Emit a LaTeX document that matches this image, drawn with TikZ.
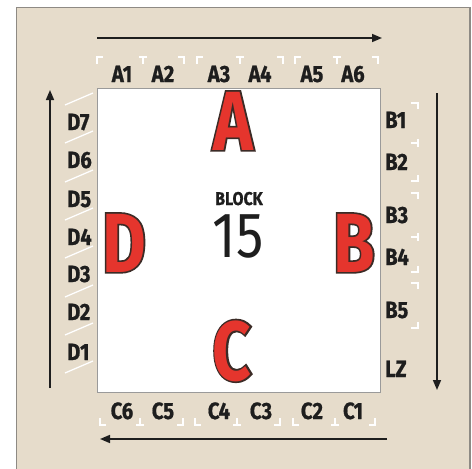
\documentclass[tikz,border=0pt]{standalone}
\usepackage{fontspec}
\setmainfont{Fira Sans}
\newfontfamily\tagfont[FakeStretch=0.86,BoldFeatures={FakeBold=0.8}]{Fira Sans}
\newfontfamily\numfont[FakeStretch=0.85]{Fira Sans}
\newfontfamily\bigfont[FakeStretch=0.8]{Fira Sans}
\newfontfamily\bigedgefont[FakeStretch=0.8,BoldFeatures={FakeBold=4}]{Fira Sans}
\usetikzlibrary{arrows.meta,positioning}
\definecolor{PanelBG}{HTML}{E6DCCB}
\definecolor{PanelFrame}{HTML}{8E8A84}
\definecolor{BoxFrame}{HTML}{9A9A9A}
\definecolor{InkDark}{HTML}{1E1E1E}
\definecolor{LetterRed}{HTML}{E5352D}
\definecolor{LetterEdge}{HTML}{3B2B26}
\tikzset{
  pinlabel/.style={font=\tagfont\bfseries\fontsize{23.5}{23.5}\selectfont,text=InkDark,inner sep=0pt},
  bigletter/.style={font=\bigfont\bfseries\fontsize{84}{84}\selectfont,text=LetterRed,inner sep=0pt,anchor=base},
  bigedge/.style={font=\bigedgefont\bfseries\fontsize{84}{84}\selectfont,text=LetterEdge,inner sep=0pt,anchor=base},
  flowarrow/.style={-{Triangle[length=10pt,width=8pt]},line width=1.6pt,InkDark},
  pinmark/.style={white,line width=1.3pt},
}

\begin{document}
\begin{tikzpicture}[x=1pt,y=-1pt]
  \useasboundingbox (0,0) rectangle (472,469);
  % --- panel and chip body ---
  \fill[white] (0,0) rectangle (472,469);
  \fill[PanelBG] (16,7) rectangle (470,472);
  \draw[PanelFrame,line width=0.8pt] (16,472)--(16,7)--(470,7);
  \draw[PanelFrame,line width=1.6pt] (470,7)--(470,472);
  \draw[BoxFrame,fill=white,line width=0.8pt] (97,88) rectangle (380,392);

  % --- flow arrows round the chip ---
  \coordinate (topS) at (97,38);   \coordinate (topE) at (382,38);
  \coordinate (rgtS) at (437,93);  \coordinate (rgtE) at (437,390);
  \coordinate (botS) at (387,439); \coordinate (botE) at (100,439);
  \coordinate (lftS) at (50,388);  \coordinate (lftE) at (50,90);
  \draw[flowarrow] (topS)--(topE);
  \draw[flowarrow] (rgtS)--(rgtE);
  \draw[flowarrow] (botS)--(botE);
  \draw[flowarrow] (lftS)--(lftE);

  % --- white pin brackets ---
  % top: A pins
  \draw[pinmark] (97,64)--(97,57)--(103,57)  (139,57)--(147,57) (143,57)--(143,64)
                 (178,57)--(184,57)--(184,64);
  \draw[pinmark] (197,64)--(197,57)--(203,57) (236,57)--(244,57) (240,57)--(240,64)
                 (277,57)--(283,57)--(283,64);
  \draw[pinmark] (295,64)--(295,57)--(301,57) (333,57)--(341,57) (337,57)--(337,64)
                 (372,57)--(378,57)--(378,64);
  % bottom: C pins
  \draw[pinmark] (100,418)--(100,425)--(106,425) (136,425)--(144,425) (140,425)--(140,418)
                 (177,425)--(183,425)--(183,418);
  \draw[pinmark] (195,418)--(195,425)--(201,425) (233,425)--(241,425) (237,425)--(237,418)
                 (274,425)--(280,425)--(280,418);
  \draw[pinmark] (293,418)--(293,425)--(299,425) (331,425)--(339,425) (335,425)--(335,418)
                 (369,425)--(375,425)--(375,418);
  % right: B pins
  \draw[pinmark] (411,103)--(418,103)--(418,109) (418,139)--(418,147) (411,143)--(418,143)
                 (418,175)--(418,181)--(411,181);
  \draw[pinmark] (411,193)--(418,193)--(418,199) (418,233)--(418,241) (411,237)--(418,237)
                 (418,266)--(418,272)--(411,272);
  \draw[pinmark] (411,283)--(418,283)--(418,289) (418,322)--(418,328)--(411,328);
  % left: D pins
  \draw[pinmark] (65,105)--(93,93)   (65,143)--(93,131)  (65,182)--(93,170)
                 (65,220)--(93,208)  (65,258)--(93,246)  (65,297)--(93,285)
                 (65,335)--(93,323)  (65,373)--(93,361);

  % --- pin names ---
  \node[pinlabel,anchor=base] (a1) at (122,82) {A1};
  \node[pinlabel,anchor=base] (a2) at (163,82) {A2};
  \node[pinlabel,anchor=base] (a3) at (219,82) {A3};
  \node[pinlabel,anchor=base] (a4) at (260,82) {A4};
  \node[pinlabel,anchor=base] (a5) at (312,82) {A5};
  \node[pinlabel,anchor=base] (a6) at (353,82) {A6};
  \node[pinlabel,anchor=base west] (b1) at (385,128) {B1};
  \node[pinlabel,anchor=base west] (b2) at (385,170) {B2};
  \node[pinlabel,anchor=base west] (b3) at (385,223) {B3};
  \node[pinlabel,anchor=base west] (b4) at (385,265) {B4};
  \node[pinlabel,anchor=base west] (b5) at (385,318) {B5};
  \node[pinlabel,anchor=base west] (lz) at (385,377) {LZ};
  \node[pinlabel,anchor=base] (c1) at (353,419) {C1};
  \node[pinlabel,anchor=base] (c2) at (312,419) {C2};
  \node[pinlabel,anchor=base] (c3) at (261,419) {C3};
  \node[pinlabel,anchor=base] (c4) at (219,419) {C4};
  \node[pinlabel,anchor=base] (c5) at (163,419) {C5};
  \node[pinlabel,anchor=base] (c6) at (122,419) {C6};
  \node[pinlabel,anchor=base west] (d1) at (67,360) {D1};
  \node[pinlabel,anchor=base west] (d2) at (67,320) {D2};
  \node[pinlabel,anchor=base west] (d3) at (67,282) {D3};
  \node[pinlabel,anchor=base west] (d4) at (67,245) {D4};
  \node[pinlabel,anchor=base west] (d5) at (67,207) {D5};
  \node[pinlabel,anchor=base west] (d6) at (67,168) {D6};
  \node[pinlabel,anchor=base west] (d7) at (67,130) {D7};

  % --- side letters (dark edge under red face) ---
  \node[bigedge]   (edgeA) at (233,150) {A};
  \node[bigletter] (sideA) at (233,150) {A};
  \node[bigedge]   (edgeB) at (354,272) {B};
  \node[bigletter] (sideB) at (354,272) {B};
  \node[bigedge]   (edgeC) at (232,380) {C};
  \node[bigletter] (sideC) at (232,380) {C};
  \node[bigedge]   (edgeD) at (124,272) {D};
  \node[bigletter] (sideD) at (124,272) {D};

  % --- block name ---
  \node[font=\tagfont\bfseries\fontsize{18.5}{18.5}\selectfont,text=InkDark,inner sep=0pt,anchor=base]
    (blk) at (239,205) {BLOCK};
  \node[font=\numfont\fontsize{64}{64}\selectfont,text=InkDark,inner sep=0pt,anchor=base]
    (num) at (238,257) {15};
\end{tikzpicture}
\end{document}
